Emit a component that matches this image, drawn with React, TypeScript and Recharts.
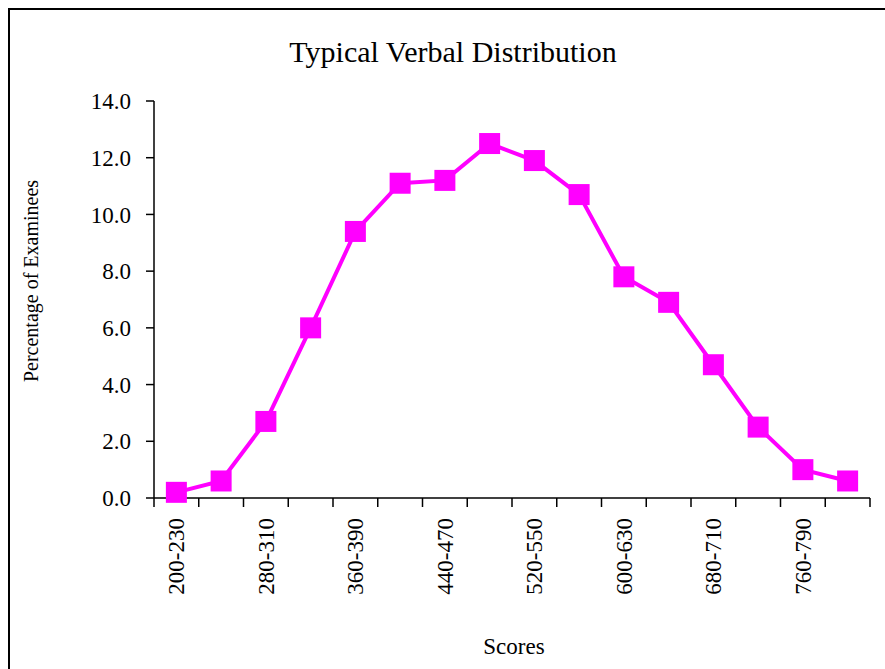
import React from 'react';
import { LineChart, Line, XAxis, YAxis } from 'recharts';

const scoreRanges = [
  '200-230', '240-270', '280-310', '320-350', '360-390', '400-430', '440-470', '480-510',
  '520-550', '560-590', '600-630', '640-670', '680-710', '720-750', '760-790', '800',
];
const percentages = [0.2, 0.6, 2.7, 6.0, 9.4, 11.1, 11.2, 12.5, 11.9, 10.7, 7.8, 6.9, 4.7, 2.5, 1.0, 0.6];
const yTicks = [0, 2, 4, 6, 8, 10, 12, 14];

const data = scoreRanges.map((range, i) => ({ range, pct: percentages[i] }));

const FONT = '"Liberation Serif", "Times New Roman", serif';
const MAGENTA = '#FF00FF';

const SquareDot = (props: any) => {
  const { cx, cy } = props;
  if (cx == null || cy == null) return null;
  return <rect x={cx - 10.5} y={cy - 10.5} width={21} height={21} fill={MAGENTA} />;
};

// Excel-style category axis: tick marks between categories, label on every other one
const CategoryTick = (props: any) => {
  const { x, y, payload, index } = props;
  const half = payload?.offset ?? 0;
  const last = index === scoreRanges.length - 1;
  const ly = y + 20;
  return (
    <g>
      <line x1={x - half} y1={y} x2={x - half} y2={y + 9} stroke="#000" strokeWidth={1.5} />
      {last && <line x1={x + half} y1={y} x2={x + half} y2={y + 9} stroke="#000" strokeWidth={1.5} />}
      {index % 2 === 0 && (
        <text x={x} y={ly} transform={`rotate(-90 ${x} ${ly})`} textAnchor="end" dy="0.35em"
          fontFamily={FONT} fontSize={23} fill="#000">
          {payload.value}
        </text>
      )}
    </g>
  );
};

export default function App() {
  return (
    <div style={{ position: 'fixed', left: 0, top: 0, width: 885, height: 669, background: '#fff', overflow: 'hidden' }}>
      <div style={{ position: 'absolute', left: 8, top: 8, width: 877, height: 2, background: '#000' }} />
      <div style={{ position: 'absolute', left: 8, top: 8, width: 2, height: 661, background: '#000' }} />
      <div style={{ position: 'absolute', left: 0, top: 0 }}>
        <LineChart width={885} height={669} data={data} margin={{ top: 101, right: 15, left: 94, bottom: 71 }}>
          <XAxis dataKey="range" scale="band" interval={0} height={100} tickSize={0} tickMargin={0}
            axisLine={{ stroke: '#000', strokeWidth: 1.5 }} tickLine={false}
            tick={<CategoryTick />} />
          <YAxis domain={[0, 14]} ticks={yTicks} width={60} tickSize={8} tickMargin={15}
            tickFormatter={(v: number) => v.toFixed(1)}
            axisLine={{ stroke: '#000', strokeWidth: 1.5 }} tickLine={{ stroke: '#000', strokeWidth: 1.5 }}
            tick={{ fill: '#000', fontSize: 23, fontFamily: FONT }} />
          <Line type="linear" dataKey="pct" stroke={MAGENTA} strokeWidth={4}
            dot={<SquareDot />} activeDot={false} isAnimationActive={false} />
        </LineChart>
      </div>
      <svg width={885} height={669} style={{ position: 'absolute', left: 0, top: 0, pointerEvents: 'none' }}>
        <text x={453} y={62} textAnchor="middle" fontFamily={FONT} fontSize={30} fill="#000">
          Typical Verbal Distribution
        </text>
        <text x={38} y={281} textAnchor="middle" fontFamily={FONT} fontSize={20} fill="#000"
          transform="rotate(-90 38 281)">
          Percentage of Examinees
        </text>
        <text x={514} y={654} textAnchor="middle" fontFamily={FONT} fontSize={23} fill="#000">
          Scores
        </text>
      </svg>
    </div>
  );
}
